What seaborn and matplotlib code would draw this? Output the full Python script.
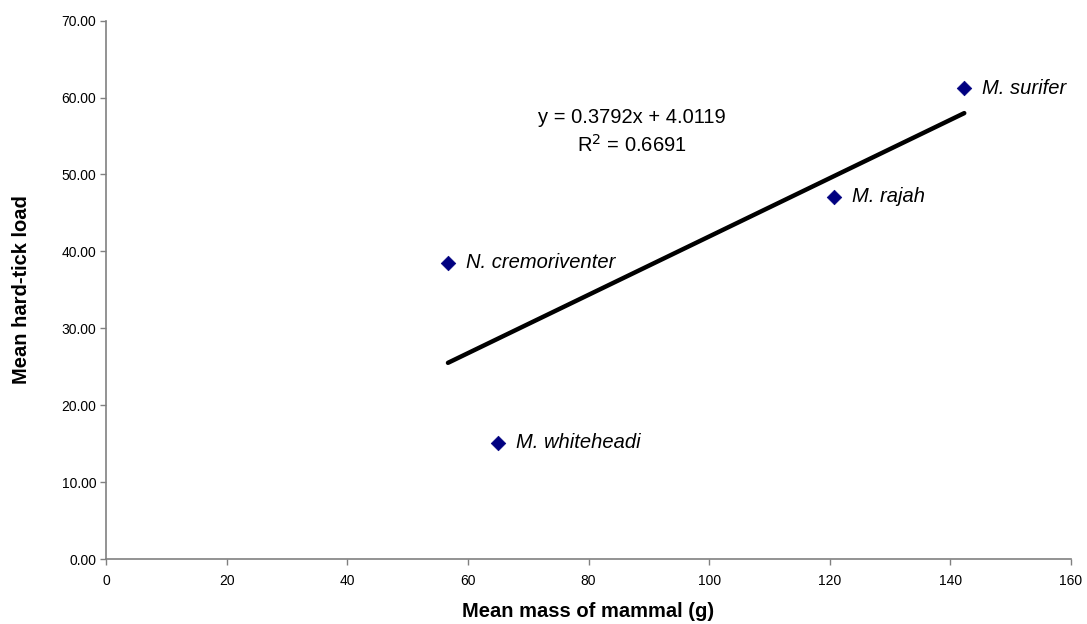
import matplotlib

matplotlib.use("Agg")

import matplotlib.pyplot as plt
import numpy as np
import pandas as pd
import seaborn as sns


species = ["N. cremoriventer", "M. whiteheadi", "M. rajah", "M. surifer"]
mean_mass = [56.7, 65.0, 120.7, 142.3]
mean_ticks = [38.5, 15.1, 47.1, 61.2]

slope = 0.3792
intercept = 4.0119
r_squared = 0.6691

x_ticks = [0, 20, 40, 60, 80, 100, 120, 140, 160]
y_ticks = [0, 10, 20, 30, 40, 50, 60, 70]

sns.set_style("white")
plt.rcParams["font.family"] = ["Liberation Sans", "DejaVu Sans"]
plt.rcParams["text.color"] = "black"
plt.rcParams["axes.labelcolor"] = "black"

df = pd.DataFrame({"species": species, "mass": mean_mass, "load": mean_ticks})
fit_x = np.array([min(mean_mass), max(mean_mass)])
fit = pd.DataFrame({"mass": fit_x, "load": slope * fit_x + intercept})

fig = plt.figure(figsize=(10.87, 6.24), dpi=100)
ax = fig.add_axes([0.0975, 0.104, 0.8878, 0.863])

sns.lineplot(data=fit, x="mass", y="load", color="black", linewidth=3.2, ax=ax)
sns.scatterplot(
    data=df, x="mass", y="load", marker="D", s=55, color="#000080",
    edgecolor="#000080", linewidth=0.5, ax=ax, zorder=3,
)

for _, row in df.iterrows():
    ax.annotate(
        row["species"], (row["mass"], row["load"]), xytext=(13, 0),
        textcoords="offset points", va="center", ha="left",
        fontsize=14.5, style="italic", color="black",
    )

ax.text(
    87.2, 55.5, f"y = {slope}x + {intercept}\nR$^2$ = {r_squared}",
    ha="center", va="center", fontsize=14.5, linespacing=1.4, color="black",
)

ax.set_xlim(0, 160)
ax.set_ylim(0, 70)
ax.set_xticks(x_ticks)
ax.set_yticks(y_ticks)
ax.set_yticklabels([f"{v:.2f}" for v in y_ticks])
ax.tick_params(axis="both", labelsize=10, length=4, width=1, color="#808080",
               labelcolor="black", direction="out", left=True, bottom=True)
ax.tick_params(axis="x", pad=7)
ax.tick_params(axis="y", pad=3)

for side in ["top", "right"]:
    ax.spines[side].set_visible(False)
for side in ["left", "bottom"]:
    ax.spines[side].set_color("#808080")
    ax.spines[side].set_linewidth(1.2)

ax.set_xlabel("Mean mass of mammal (g)", fontsize=14.5, fontweight="bold", labelpad=10)
ax.set_ylabel("Mean hard-tick load", fontsize=14.5, fontweight="bold", labelpad=22)

fig.savefig("out.png", dpi=100)
